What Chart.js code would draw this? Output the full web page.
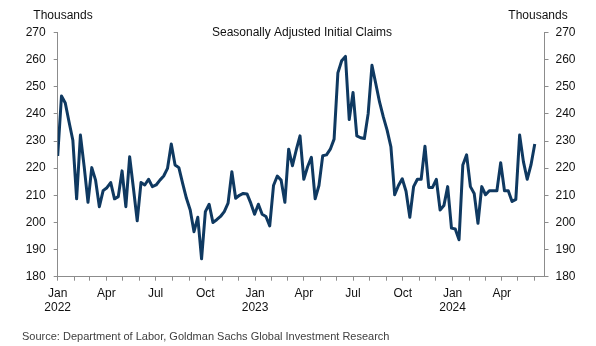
<!DOCTYPE html>
<html>
<head>
<meta charset="utf-8">
<script src="https://cdn.jsdelivr.net/npm/chart.js@4.4.1/dist/chart.umd.min.js"></script>
<style>
  html, body { margin: 0; padding: 0; background: #fff; }
  #wrap { width: 596px; height: 346px; position: relative; }
</style>
</head>
<body>
<div id="wrap"><canvas id="claims" width="596" height="346"></canvas></div>
<script>
// weekly initial claims, thousands, seasonally adjusted (first week = Jan 2022)
const firstWeek = '2022-01-01';
const claims = [
    224.5, 246.6, 244.0, 237.0, 230.3, 208.7, 232.2, 220.5, 207.4, 220.2,
    215.6, 205.8, 211.7, 212.8, 214.7, 208.7, 209.5, 219.0, 205.8, 224.2,
    212.6, 200.6, 214.7, 213.8, 215.9, 213.2, 213.8, 215.6, 217.1, 219.9,
    228.9, 221.2, 220.2, 214.4, 208.9, 204.6, 196.6, 201.9, 186.6, 204.0,
    206.7, 200.0, 201.0, 202.2, 204.0, 207.1, 218.7, 208.9, 210.0, 210.7,
    210.5, 207.1, 203.0, 206.7, 203.0, 202.2, 198.7, 213.6, 217.1, 215.6,
    207.4, 227.0, 220.9, 226.7, 231.9, 215.9, 220.5, 224.0, 208.7, 213.6,
    224.6, 224.9, 227.0, 230.7, 255.1, 259.6, 261.2, 237.9, 247.9, 231.9,
    231.2, 230.9, 240.1, 257.9, 251.2, 244.4, 238.9, 234.0, 227.9, 210.2,
    213.6, 216.1, 211.5, 201.9, 213.2, 215.9, 215.9, 228.1, 212.9, 212.9,
    215.9, 204.6, 206.2, 213.2, 197.9, 197.6, 193.6, 221.2, 224.9, 213.2,
    210.7, 199.7, 213.2, 210.2, 211.7, 211.7, 211.7, 222.0, 211.7, 211.7,
    207.7, 208.5, 232.2, 222.4, 215.9, 221.2, 228.9
];

const monthNames = ['Jan', 'Feb', 'Mar', 'Apr', 'May', 'Jun', 'Jul', 'Aug', 'Sep', 'Oct', 'Nov', 'Dec'];
const quarterMonths = [0, 3, 6, 9];
const yTicks = [180, 190, 200, 210, 220, 230, 240, 250, 260, 270];

const titleText = 'Seasonally Adjusted Initial Claims';
const unitText = 'Thousands';
const sourceText = 'Source: Department of Labor, Goldman Sachs Global Investment Research';

const DAY = 86400000;
const t0 = Date.parse(firstWeek + 'T00:00:00Z');
const axisEndDay = 900;

// x is days since the first week
const points = claims.map((v, i) => ({ x: i * 7, y: v }));

// month start offsets for the x axis ticks
const monthTicks = [];
for (let y = 2022; y <= 2024; y++) {
    for (let m = 0; m < 12; m++) {
        const d = Math.round((Date.UTC(y, m, 1) - t0) / DAY);
        if (d >= 0 && d <= axisEndDay) monthTicks.push({ value: d, month: m, year: y });
    }
}

const font = { family: '"Liberation Sans", Arial, sans-serif', size: 12 };
const axisGrey = '#8c8c8c';

const textPlugin = {
    id: 'textPlugin',
    afterDraw(chart) {
        const ctx = chart.ctx;
        ctx.save();
        ctx.fillStyle = '#111';
        ctx.font = '12px "Liberation Sans", Arial, sans-serif';
        ctx.textBaseline = 'middle';
        ctx.textAlign = 'center';
        ctx.fillText(unitText, 63, 16);
        ctx.fillText(unitText, 538, 16);
        ctx.fillText(titleText, 302, 32.5);
        ctx.textAlign = 'left';
        ctx.fillStyle = '#404040';
        ctx.font = '11px "Liberation Sans", Arial, sans-serif';
        ctx.fillText(sourceText, 22, 337);
        ctx.restore();
    }
};

new Chart(document.getElementById('claims'), {
    type: 'line',
    data: {
        datasets: [{
            data: points,
            borderColor: '#0f3961',
            borderWidth: 3,
            borderJoinStyle: 'round',
            pointRadius: 0,
            tension: 0,
            yAxisID: 'y'
        }]
    },
    options: {
        responsive: false,
        animation: false,
        events: [],
        layout: { padding: { top: 32.5, bottom: 0, left: 0, right: 0 } },
        plugins: { legend: { display: false }, tooltip: { enabled: false } },
        scales: {
            x: {
                type: 'linear',
                min: 0,
                max: axisEndDay,
                afterBuildTicks(scale) {
                    scale.ticks = monthTicks.map(t => ({ value: t.value }));
                },
                afterFit(scale) { scale.height = 69.3; },
                border: { display: true, color: axisGrey, width: 1 },
                grid: { drawOnChartArea: false, drawTicks: true, tickLength: 4, color: axisGrey },
                ticks: {
                    autoSkip: false,
                    maxRotation: 0,
                    padding: 6,
                    color: '#111',
                    font: { ...font, lineHeight: 1.15 },
                    callback(value, index) {
                        const t = monthTicks[index];
                        if (!t || !quarterMonths.includes(t.month)) return '';
                        const name = monthNames[t.month];
                        return t.month === 0 ? [name, String(t.year)] : name;
                    }
                }
            },
            y: {
                position: 'left',
                min: 180,
                max: 270,
                afterBuildTicks(scale) { scale.ticks = yTicks.map(v => ({ value: v })); },
                afterFit(scale) { scale.width = 57.7; },
                border: { display: true, color: axisGrey, width: 1 },
                grid: { drawOnChartArea: false, drawTicks: true, tickLength: 4, color: axisGrey },
                ticks: { color: '#111', font: font, padding: 8 }
            },
            y2: {
                position: 'right',
                min: 180,
                max: 270,
                afterBuildTicks(scale) { scale.ticks = yTicks.map(v => ({ value: v })); },
                afterFit(scale) { scale.width = 51.5; },
                border: { display: true, color: axisGrey, width: 1 },
                grid: { drawOnChartArea: false, drawTicks: true, tickLength: 4, color: axisGrey },
                ticks: { color: '#111', font: font, padding: 7 }
            }
        }
    },
    plugins: [textPlugin]
});
</script>
</body>
</html>
